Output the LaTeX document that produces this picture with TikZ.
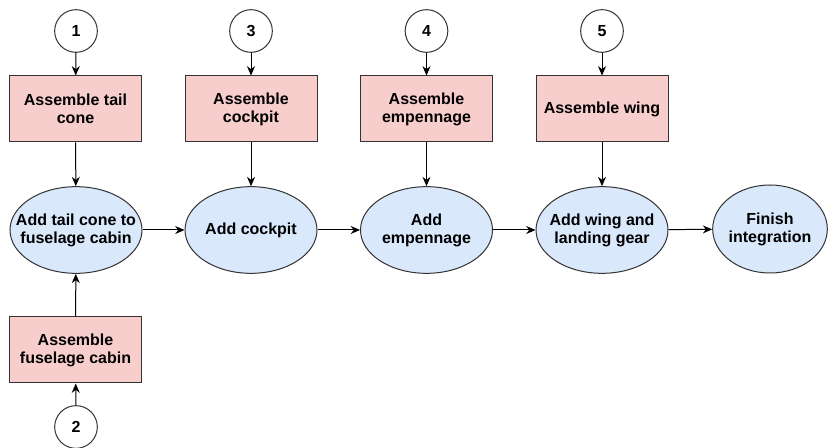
\documentclass[tikz,border=0pt]{standalone}
\usepackage{fontspec}
\setmainfont{Liberation Sans}
\usetikzlibrary{arrows.meta,shapes.geometric}
\definecolor{taskfill}{HTML}{F8CECC}
\definecolor{stepfill}{HTML}{DAE8FC}
\definecolor{edge}{HTML}{333333}
\begin{document}
\begin{tikzpicture}[x=0.75pt,y=-0.75pt,
  every node/.style={font=\fontsize{12}{13.5}\selectfont\bfseries, align=center, line width=0.75pt},
  inputnum/.style={circle, draw=edge, fill=white, minimum size=32pt, inner sep=0pt},
  taskbox/.style={rectangle, draw=edge, fill=taskfill, minimum width=99pt, minimum height=49.5pt, inner sep=2pt},
  stage/.style={ellipse, draw=edge, fill=stepfill, minimum width=99pt, minimum height=65pt, inner sep=0pt},
  flow/.style={draw=black, line width=0.75pt, -{Stealth[length=7pt,width=6pt]}}]
\useasboundingbox (0,0) rectangle (832,448);

% numbered inputs
\node[inputnum] (n1) at (76,31) {1};
\node[inputnum] (n3) at (251,31) {3};
\node[inputnum] (n4) at (426.5,31) {4};
\node[inputnum] (n5) at (602,31) {5};
\node[inputnum] (n2) at (76,427) {2};

% sub-assembly tasks
\node[taskbox] (t1) at (75.5,109) {Assemble tail\\cone};
\node[taskbox] (t3) at (251,109) {Assemble\\cockpit};
\node[taskbox] (t4) at (426.5,109) {Assemble\\empennage};
\node[taskbox] (t5) at (602,109) {Assemble wing};
\node[taskbox] (t2) at (75.5,350) {Assemble\\fuselage cabin};

% integration stages: fixed-size ellipses, labels set on top
\node[stage] (s1) at (76,230) {};
\node[stage] (s2) at (251,230) {};
\node[stage] (s3) at (426.5,230) {};
\node[stage] (s4) at (602,230) {};
\node[stage, minimum width=86pt, minimum height=66pt] (s5) at (770,229) {};
\node (l1) at (s1) {Add tail cone to\\fuselage cabin};
\node (l2) at (s2) {Add cockpit};
\node (l3) at (s3) {Add\\empennage};
\node (l4) at (s4) {Add wing and\\landing gear};
\node (l5) at (s5) {Finish\\integration};

% connectors
\draw[flow] (n1) -- (t1);
\draw[flow] (n3) -- (t3);
\draw[flow] (n4) -- (t4);
\draw[flow] (n5) -- (t5);
\draw[flow] (n2) -- (t2);
\draw[flow] (t1) -- (s1);
\draw[flow] (t3) -- (s2);
\draw[flow] (t4) -- (s3);
\draw[flow] (t5) -- (s4);
\draw[flow] (t2) -- (s1);
\draw[flow] (s1) -- (s2);
\draw[flow] (s2) -- (s3);
\draw[flow] (s3) -- (s4);
\draw[flow] (s4) -- (s5);
\end{tikzpicture}
\end{document}
